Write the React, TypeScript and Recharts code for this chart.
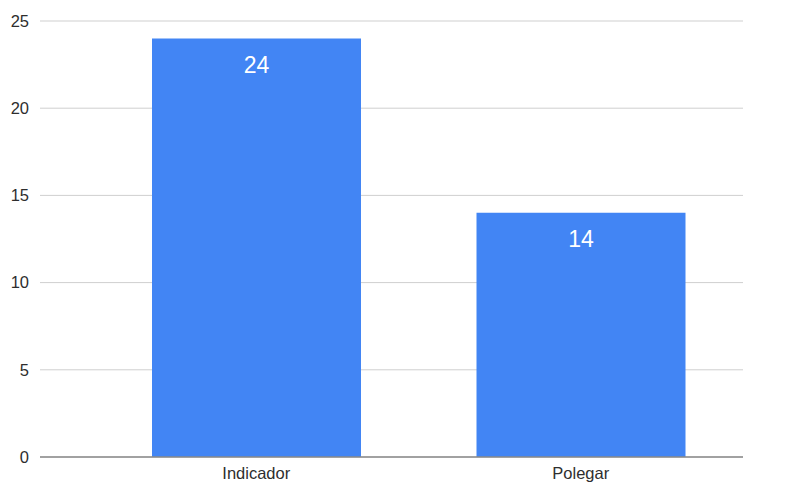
import React from "react";
import { BarChart, Bar, XAxis, YAxis, CartesianGrid, LabelList } from "recharts";

const categories = ["Indicador", "Polegar"];
const counts = [24, 14];
const yTicks = [0, 5, 10, 15, 20, 25];

const data = categories.map((name, i) => ({ name, value: counts[i] }));

const font = "'Liberation Sans', Arial, sans-serif";

export default function App() {
  return (
    <div style={{ position: "absolute", left: 0, top: 0, width: 790, height: 484, background: "#fff" }}>
      <BarChart
        width={790}
        height={484}
        data={data}
        margin={{ top: 21, right: 47, bottom: 0, left: 0 }}
      >
        <CartesianGrid vertical={false} stroke="#cfcfcf" strokeWidth={1} />
        <XAxis
          dataKey="name"
          height={27}
          padding={{ left: 54, right: 0 }}
          tickLine={false}
          tickSize={0}
          tickMargin={10}
          axisLine={{ stroke: "#8a8a8a", strokeWidth: 1.5 }}
          tick={{ fill: "#2e2e2e", fontSize: 16.5, fontFamily: font }}
        />
        <YAxis
          width={40}
          domain={[0, 25]}
          ticks={yTicks}
          tickLine={false}
          axisLine={false}
          tickSize={0}
          tickMargin={11}
          tick={{ fill: "#2e2e2e", fontSize: 16.5, fontFamily: font }}
        />
        <Bar dataKey="value" fill="#4285f4" barSize={209} isAnimationActive={false}>
          <LabelList
            dataKey="value"
            position="insideTop"
            offset={18}
            fill="#fff"
            fontSize={23}
            fontFamily={font}
          />
        </Bar>
      </BarChart>
    </div>
  );
}
